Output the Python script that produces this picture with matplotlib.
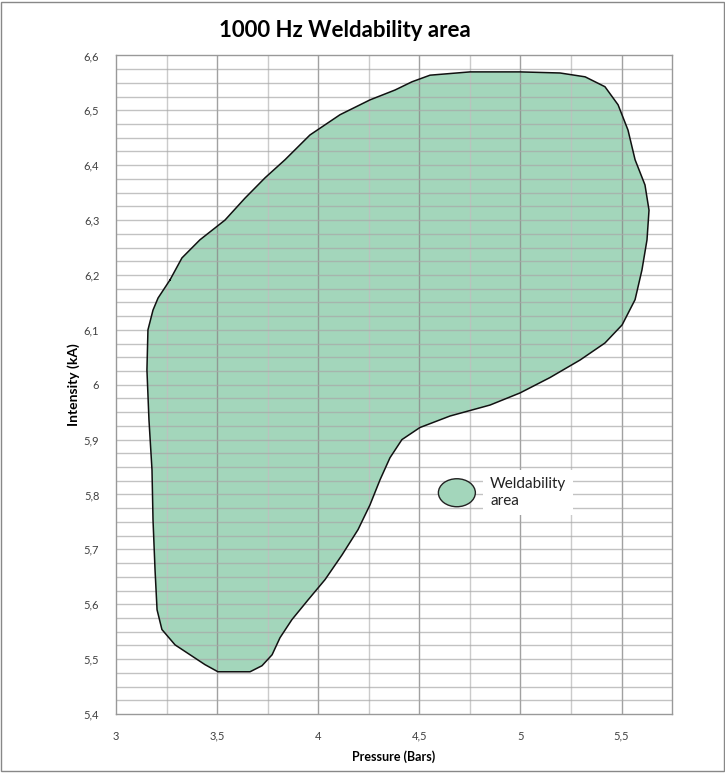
#Weldability area chart (1000 Hz)
import matplotlib
matplotlib.use("Agg")
import matplotlib.pyplot as plt
from matplotlib.patches import Ellipse, Rectangle, Polygon
import numpy as np

plt.rcParams['font.family'] = ['Lato', 'DejaVu Sans']

#Contour of the weldability area (pressure in bars, intensity in kA)
pressure = [3.267, 3.208, 3.183, 3.158, 3.153, 3.163, 3.178, 3.183, 3.193, 3.203,
            3.227, 3.292, 3.366, 3.440, 3.504, 3.663, 3.722, 3.772, 3.811, 3.870,
            3.950, 4.034, 4.118, 4.197, 4.256, 4.306, 4.355, 4.414, 4.503, 4.652,
            4.850, 4.998, 5.146, 5.295, 5.418, 5.503, 5.567, 5.601, 5.626, 5.636,
            5.616, 5.567, 5.532, 5.483, 5.418, 5.320, 5.196, 4.998, 4.751, 4.553,
            4.464, 4.380, 4.256, 4.108, 3.959, 3.836, 3.737, 3.638, 3.539, 3.415,
            3.326]
intensity = [6.191, 6.158, 6.136, 6.100, 6.027, 5.936, 5.845, 5.754, 5.663, 5.590,
             5.554, 5.526, 5.508, 5.490, 5.477, 5.477, 5.488, 5.508, 5.539, 5.572,
             5.608, 5.645, 5.690, 5.736, 5.781, 5.827, 5.867, 5.900, 5.922, 5.943,
             5.963, 5.985, 6.013, 6.045, 6.076, 6.109, 6.155, 6.209, 6.264, 6.318,
             6.364, 6.410, 6.464, 6.510, 6.543, 6.561, 6.568, 6.570, 6.570, 6.564,
             6.552, 6.537, 6.519, 6.492, 6.455, 6.410, 6.377, 6.340, 6.300, 6.264,
             6.231]

x_ticks = [3, 3.5, 4, 4.5, 5, 5.5]
x_labels = ["3", "3,5", "4", "4,5", "5", "5,5"]
y_ticks = [5.4, 5.5, 5.6, 5.7, 5.8, 5.9, 6.0, 6.1, 6.2, 6.3, 6.4, 6.5, 6.6]
y_labels = ["5,4", "5,5", "5,6", "5,7", "5,8", "5,9", "6", "6,1", "6,2", "6,3", "6,4", "6,5", "6,6"]

fig = plt.figure(figsize=(7.25, 7.73), dpi=100)
ax = fig.add_axes([0.160, 0.0763, 0.767, 0.852])
ax.set_xlim(3, 5.75)
ax.set_ylim(5.4, 6.6)

#Area
zona = Polygon(np.column_stack([pressure, intensity]), closed=True,
               facecolor='#a3d6bb', edgecolor='none', zorder=1)
ax.add_patch(zona)
ax.plot(pressure + pressure[:1], intensity + intensity[:1], color='#111111', lw=1.1, zorder=4)

#Grid
for v in np.arange(3.25, 5.75, 0.25):
    if abs(v * 2 - round(v * 2)) < 1e-9:
        ax.axvline(v, color='#8a8a8a', lw=1.0, alpha=0.8, zorder=2)
    else:
        ax.axvline(v, color='#bfbfbf', lw=1.0, alpha=0.8, zorder=2)
for h in np.arange(5.425, 6.6, 0.025):
    ax.axhline(h, color='#a8a8a8', lw=1.0, alpha=0.7, zorder=2)

ax.set_xticks(x_ticks)
ax.set_xticklabels(x_labels)
ax.set_yticks(y_ticks)
ax.set_yticklabels(y_labels)
ax.tick_params(length=0, labelsize=8, labelcolor='#404040', pad=12)
for s in ax.spines.values():
    s.set_color('#999999')
    s.set_linewidth(1.0)

ax.set_xlabel("Pressure (Bars)", fontsize=9, fontweight='bold', labelpad=6)
ax.set_ylabel("Intensity (kA)", fontsize=10, fontweight='bold', labelpad=3)

fig.text(0.476, 0.961, "1000 Hz Weldability area", fontsize=16, fontweight='bold',
         ha='center', va='center')

#Legend
ax.add_patch(Ellipse((0.613, 0.336), 0.0665, 0.0425, transform=ax.transAxes,
                     facecolor='#a3d6bb', edgecolor='#222222', lw=1.0, zorder=5))
ax.text(0.673, 0.336, "Weldability\narea", transform=ax.transAxes, fontsize=11,
        ha='left', va='center', linespacing=1.3, zorder=5, color='#222222',
        bbox=dict(facecolor='white', edgecolor='none', pad=5))

#Frame around the picture
fig.patches.append(Rectangle((0.002, 0.002), 0.996, 0.996, transform=fig.transFigure,
                             fill=False, edgecolor='#888888', lw=1.0))

fig.savefig("out.png", dpi=100)
